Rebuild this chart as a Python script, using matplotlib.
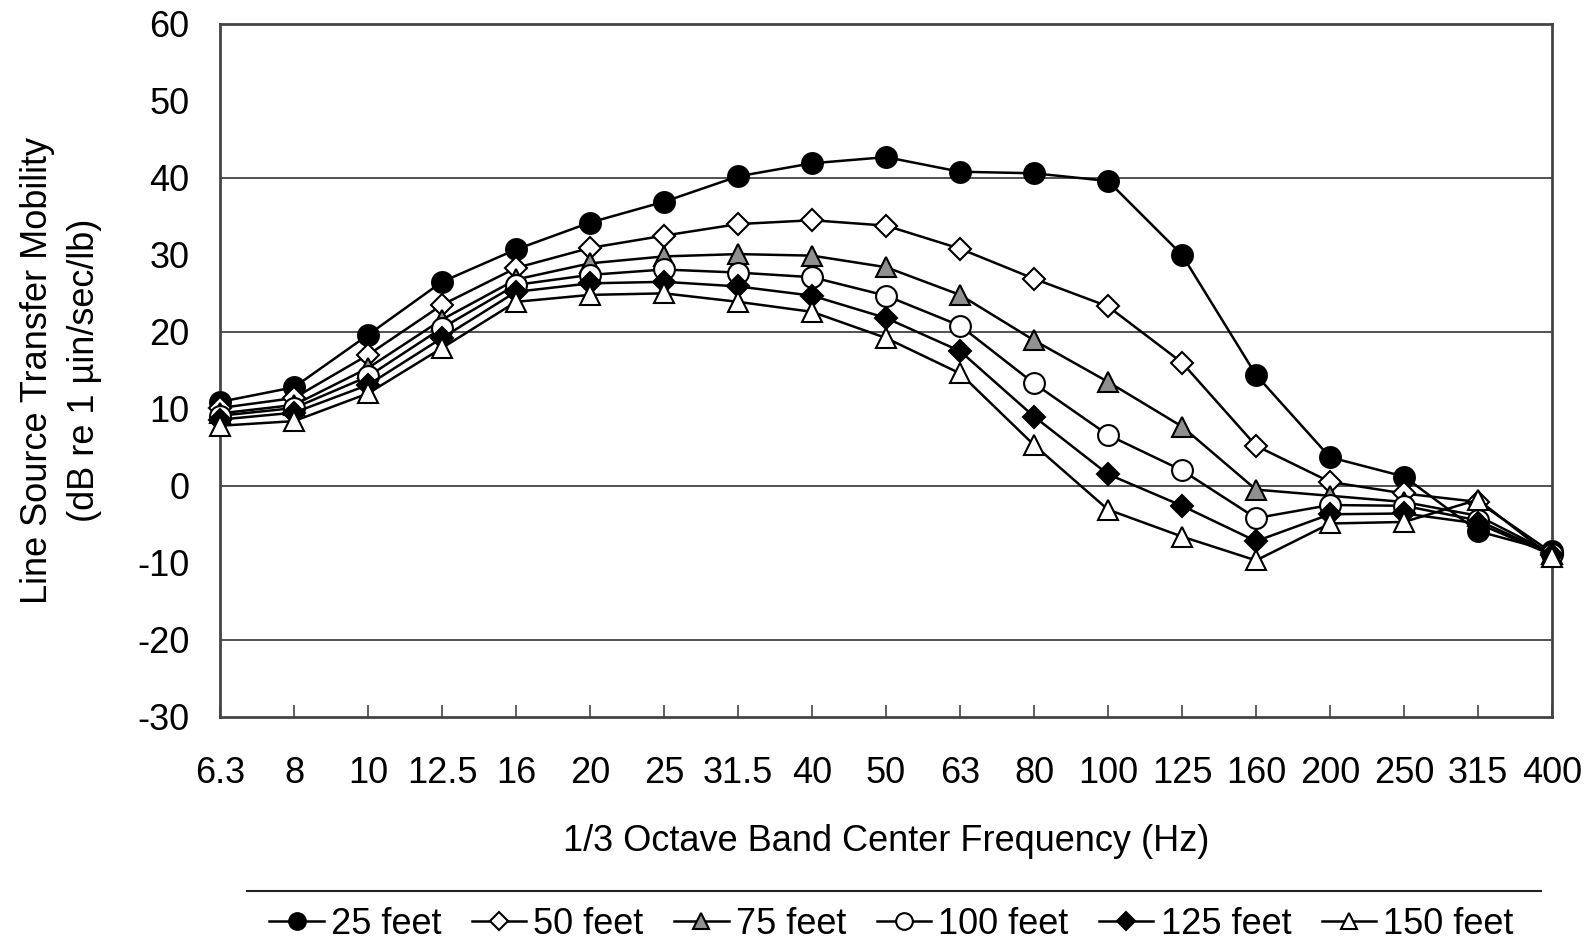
import matplotlib.pyplot as plt
from matplotlib.lines import Line2D

plt.rcParams['font.family'] = ['Liberation Sans', 'DejaVu Sans']
plt.rcParams['axes.unicode_minus'] = False

# 1/3 octave band centre frequencies (Hz)
freqs = ['6.3', '8', '10', '12.5', '16', '20', '25', '31.5', '40', '50',
         '63', '80', '100', '125', '160', '200', '250', '315', '400']

# line source transfer mobility, dB re 1 uin/sec/lb
ft25 = [10.9, 12.8, 19.6, 26.5, 30.7, 34.2, 36.9, 40.2, 41.9, 42.7,
        40.8, 40.6, 39.6, 30.0, 14.4, 3.7, 1.2, -5.9, -8.5]
ft50 = [10.1, 11.4, 17.0, 23.5, 28.3, 30.9, 32.5, 34.0, 34.5, 33.8,
        30.8, 26.9, 23.3, 16.0, 5.2, 0.5, -1.0, -2.1, -8.7]
ft75 = [9.4, 10.5, 15.3, 21.6, 26.8, 28.9, 29.8, 30.1, 29.9, 28.4,
        24.8, 18.9, 13.5, 7.7, -0.5, -1.3, -2.1, -3.9, -8.8]
ft100 = [9.1, 10.1, 14.2, 20.5, 26.1, 27.4, 28.1, 27.7, 27.1, 24.7,
         20.8, 13.3, 6.6, 2.0, -4.2, -2.5, -2.6, -4.5, -8.9]
ft125 = [8.6, 9.5, 13.1, 19.2, 25.2, 26.3, 26.5, 25.9, 24.7, 21.8,
         17.5, 9.0, 1.5, -2.6, -7.2, -3.7, -3.6, -4.9, -9.0]
ft150 = [7.8, 8.4, 12.0, 17.9, 23.9, 24.8, 25.0, 23.9, 22.6, 19.2,
         14.6, 5.3, -3.1, -6.6, -9.7, -4.9, -4.7, -1.8, -9.3]

labels = ['25 feet', '50 feet', '75 feet', '100 feet', '125 feet', '150 feet']
series = [ft25, ft50, ft75, ft100, ft125, ft150]
markers = ['o', 'D', '^', 'o', 'D', '^']
fills = ['black', 'white', '#909090', 'white', 'black', 'white']
sizes = [15, 11, 15, 15, 11, 15]

fig = plt.figure(figsize=(15.92, 9.47), dpi=100)
ax = fig.add_axes([0.1382, 0.2432, 0.8367, 0.7315])

x = list(range(len(freqs)))

# horizontal grid lines only every 20
for g in [-20, 0, 20, 40]:
    ax.axhline(g, color='#333333', lw=1.2, zorder=1)

for s, lab, m, fc, ms in zip(series, labels, markers, fills, sizes):
    ax.plot(x, s, color='black', lw=1.8, marker=m, markersize=ms,
            markerfacecolor=fc, markeredgecolor='black', markeredgewidth=1.5,
            label=lab, zorder=3, clip_on=False)

ax.set_xlim(0, len(freqs) - 1)
ax.set_ylim(-30, 60)
ax.set_yticks(range(-30, 61, 10))
ax.set_xticks(x)
ax.set_xticklabels(freqs)
ax.tick_params(axis='y', length=0, pad=22, labelsize=26)
ax.tick_params(axis='x', direction='in', length=9, width=1.2, color='#444444',
               pad=28, labelsize=26)

for sp in ax.spines.values():
    sp.set_color('#444444')
    sp.set_linewidth(2)

ax.set_xlabel('1/3 Octave Band Center Frequency (Hz)', fontsize=26, labelpad=24)
ax.set_ylabel('Line Source Transfer Mobility\n(dB re 1 \u00b5in/sec/lb)',
              fontsize=26, labelpad=25, linespacing=1.45)

# legend, only its top border line is visible
fig.legend(loc='center', bbox_to_anchor=(0.56, 0.024), ncol=6, frameon=False,
           fontsize=26, handlelength=1.5, handletextpad=0.2, columnspacing=0.85,
           markerscale=0.8)
fig.add_artist(Line2D([0.155, 0.968], [0.059, 0.059], color='#222222', lw=1.5))

fig.savefig('out.png', dpi=100, facecolor='white')
